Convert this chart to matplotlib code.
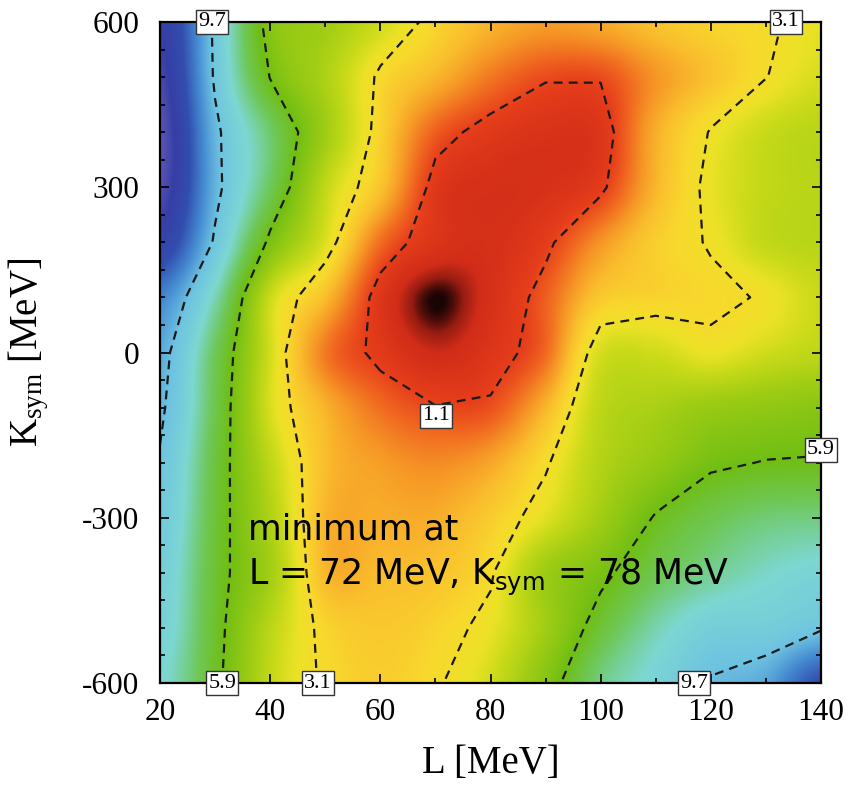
import numpy as np
import matplotlib
matplotlib.use("Agg")
import matplotlib.pyplot as plt
from matplotlib.colors import LinearSegmentedColormap

plt.rcParams["axes.unicode_minus"] = False

# grid of the chi^2 surface
L_vals = [20, 30, 40, 50, 60, 70, 80, 90, 100, 110, 120, 130, 140]
K_vals = [-600, -500, -400, -300, -200, -100, 0, 100, 200, 300, 400, 500, 600]

# one row per K value (bottom to top), one column per L value
chi2 = [
    [8.4, 6.2, 3.9, 2.96, 2.7, 3.0, 3.67, 5.3, 7.44, 8.6, 9.82, 10.4, 12.6],
    [8.8, 6.3, 4.08, 2.85, 2.6, 2.8, 3.3, 4.6, 6.46, 7.9, 8.9, 9.0, 9.55],
    [9.0, 6.4, 4.55, 2.35, 2.4, 2.5, 3.0, 4.67, 5.6, 6.8, 7.6, 8.2, 8.6],
    [9.3, 6.5, 4.28, 2.31, 2.2, 2.2, 2.65, 3.45, 4.6, 6.0, 6.8, 7.3, 7.4],
    [9.55, 6.6, 4.0, 2.42, 2.0, 1.8, 2.1, 3.0, 4.2, 4.9, 5.7, 5.95, 6.0],
    [10.0, 6.8, 3.59, 2.27, 1.5, 1.13, 1.2, 2.3, 4.0, 4.4, 4.8, 5.0, 5.2],
    [10.3, 7.0, 3.67, 1.63, 0.9, 0.4, 0.75, 1.45, 3.6, 3.7, 3.3, 3.7, 4.0],
    [11.2, 8.0, 3.8, 2.4, 0.78, 0.0, 0.55, 1.34, 2.6, 2.8, 2.9, 3.18, 3.8],
    [13.5, 9.5, 5.6, 3.5, 1.5, 0.7, 0.55, 0.95, 1.9, 2.7, 3.17, 3.9, 4.1],
    [14.8, 10.1, 7.0, 3.94, 2.52, 0.83, 0.55, 0.6, 0.95, 2.3, 3.31, 3.9, 4.1],
    [15.0, 10.0, 7.2, 4.65, 2.78, 1.35, 0.85, 0.65, 0.75, 2.2, 3.15, 3.8, 4.1],
    [14.5, 9.5, 5.85, 4.33, 2.95, 2.3, 1.6, 1.15, 1.14, 1.9, 2.5, 3.08, 3.6],
    [14.0, 9.42, 5.3, 4.6, 3.7, 2.85, 2.3, 2.0, 2.15, 2.5, 2.8, 3.0, 3.35],
]

levels = [1.1, 3.1, 5.9, 9.7]
level_labels = ["9.7", "3.1", "1.1", "5.9", "5.9", "3.1", "9.7"]
label_pos = [(29.5, 600), (133.6, 600), (70.1, -115), (140, -177),
             (31.3, -600), (48.7, -600), (116.9, -600)]

x_ticks = [20, 40, 60, 80, 100, 120, 140]
y_ticks = [-600, -300, 0, 300, 600]

# palette: black at the minimum, red, orange, yellow, green, cyan, blue
vmax = 15.0
pal = [
    (0.0, (25, 5, 5)),
    (0.06, (70, 12, 9)),
    (0.18, (150, 28, 18)),
    (0.4, (208, 44, 24)),
    (1.0, (230, 62, 27)),
    (1.4, (240, 100, 32)),
    (1.9, (246, 150, 38)),
    (2.4, (250, 190, 45)),
    (2.9, (248, 217, 45)),
    (3.3, (236, 226, 38)),
    (3.8, (200, 218, 25)),
    (4.6, (160, 205, 20)),
    (5.9, (112, 190, 20)),
    (7.0, (110, 200, 90)),
    (8.3, (125, 215, 210)),
    (9.7, (110, 195, 225)),
    (11.0, (70, 140, 210)),
    (12.5, (50, 78, 175)),
    (14.0, (55, 62, 165)),
    (15.0, (90, 85, 180)),
]
cmap = LinearSegmentedColormap.from_list(
    "chi", [(v / vmax, tuple(c / 255 for c in rgb)) for v, rgb in pal], N=4096)

serif = "Liberation Serif"

fig = plt.figure(figsize=(8.48, 7.85), dpi=100)
ax = fig.add_axes([160 / 848, 1 - 683 / 785, 661 / 848, 661 / 785])

Z = np.array(chi2)
ax.imshow(Z, origin="lower", extent=(15, 145, -650, 650), aspect="auto",
          cmap=cmap, vmin=0, vmax=vmax, interpolation="catrom",
          interpolation_stage="data")
ax.contour(L_vals, K_vals, Z, levels=levels, colors="#1a1a1a",
           linewidths=1.6, linestyles=[(0, (4, 2.8))])

for txt, (lx, ky) in zip(level_labels, label_pos):
    ax.text(lx, ky, txt, family=serif, fontsize=16, ha="center", va="center",
            clip_on=False, zorder=5,
            bbox=dict(boxstyle="square,pad=0.1", fc="white", ec="#333333", lw=1.0))

ax.text(36, -340, "minimum at", fontsize=25, family="DejaVu Sans", va="baseline")
ax.text(36, -422, r"L = 72 MeV, $\mathregular{K_{sym}}$ = 78 MeV", fontsize=25,
        family="DejaVu Sans", va="baseline")

ax.set_xlim(20, 140)
ax.set_ylim(-600, 600)
ax.set_xticks(x_ticks)
ax.set_yticks(y_ticks)
ax.set_xticks(np.arange(20, 141, 10), minor=True)
ax.set_yticks(np.arange(-600, 601, 50), minor=True)
ax.tick_params(which="both", direction="in", top=True, right=True, width=1.2)
ax.tick_params(which="major", length=6.5)
ax.tick_params(which="minor", length=3.5)
ax.tick_params(axis="x", pad=11)
ax.tick_params(axis="y", pad=15)
for lab in ax.get_xticklabels() + ax.get_yticklabels():
    lab.set_family(serif)
    lab.set_fontsize(22.5)
for s in ax.spines.values():
    s.set_linewidth(1.6)

ax.set_xlabel("L [MeV]", family=serif, fontsize=28)
ax.set_ylabel(r"$\mathregular{K_{sym}}$ [MeV]", family=serif, fontsize=28)
ax.xaxis.set_label_coords(0.5, -0.094)
ax.yaxis.set_label_coords(-0.165, 0.5)

fig.savefig("out.png", dpi=100)
